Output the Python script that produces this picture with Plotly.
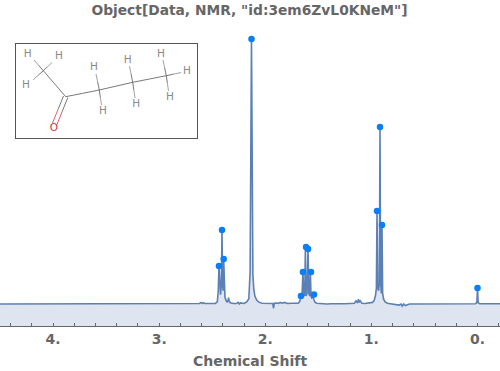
import plotly.graph_objects as go

TITLE = 'Object[Data, NMR, "id:3em6ZvL0KNeM"]'
X_TITLE = "Chemical Shift"
TICK_VALUES = [4, 3, 2, 1, 0]
TICK_LABELS = ["4.", "3.", "2.", "1.", "0."]

shift = [4.72, 4.0, 3.5, 3.0, 2.85, 2.62, 2.605, 2.595, 2.585, 2.57, 2.55, 2.5, 2.47, 2.452, 2.443, 2.4365, 2.43,
         2.422, 2.414, 2.408, 2.402, 2.397, 2.392, 2.387, 2.38, 2.37, 2.36, 2.352, 2.346, 2.34, 2.33, 2.3, 2.27, 2.255,
         2.245, 2.235, 2.2, 2.175, 2.155, 2.143, 2.136, 2.13, 2.124, 2.117, 2.108, 2.098, 2.08, 2.06, 2.03, 2.0,
         1.96, 1.93, 1.922, 1.915, 1.89, 1.875, 1.86, 1.84, 1.82, 1.79, 1.75, 1.72, 1.69, 1.675, 1.664, 1.655, 1.645,
         1.637, 1.628, 1.622, 1.616, 1.607, 1.597, 1.59, 1.582, 1.575, 1.569, 1.56, 1.552, 1.541, 1.53, 1.515, 1.49,
         1.45, 1.42, 1.38, 1.34, 1.3, 1.25, 1.2, 1.16, 1.145, 1.13, 1.122, 1.115, 1.105, 1.09, 1.06, 1.02, 0.99,
         0.975, 0.962, 0.953, 0.947, 0.94, 0.932, 0.925, 0.919, 0.913, 0.906, 0.9, 0.894, 0.885, 0.87, 0.85, 0.82,
         0.78, 0.74, 0.72, 0.71, 0.695, 0.68, 0.64, 0.5, 0.3, 0.13, 0.11, 0.02, 0.006, 0.0, -0.006, -0.02, -0.1, -0.3]
intensity = [0.0, 0.001, 0.001, 0.001, 0.002, 0.002, 0.006, 0.002, 0.005, 0.002, 0.002, 0.002, 0.002, 0.008, 0.05, 0.143, 0.05,
             0.035, 0.07, 0.279, 0.07, 0.05, 0.17, 0.05, 0.025, 0.014, 0.008, 0.012, 0.024, 0.01, 0.005, 0.002, 0.002, 0.006,
             0.0, 0.004, 0.002, 0.008, 0.02, 0.12, 0.6, 1.0, 0.6, 0.11, 0.055, 0.03, 0.014, 0.007, 0.003, 0.002,
             0.001, 0.002, -0.016, 0.003, 0.004, 0.002, 0.006, 0.003, 0.006, 0.002, 0.003, 0.002, 0.003, 0.01, 0.03, 0.02, 0.121,
             0.03, 0.035, 0.215, 0.03, 0.04, 0.208, 0.04, 0.03, 0.121, 0.03, 0.02, 0.036, 0.015, 0.006, 0.003, 0.002,
             0.001, 0.0, 0.001, 0.002, 0.001, 0.001, 0.002, 0.003, 0.012, 0.004, 0.018, 0.006, 0.012, 0.003, 0.002, 0.003, 0.006,
             0.012, 0.03, 0.06, 0.351, 0.06, 0.05, 0.08, 0.668, 0.08, 0.04, 0.298, 0.04, 0.018, 0.008, 0.003, 0.001,
             0.001, -0.004, 0.0, -0.008, 0.0, -0.006, 0.0, 0.0, 0.001, 0.0, 0.002, 0.001, 0.005, 0.06, 0.005, 0.001, 0.001, 0.001]

peak_shift = [2.4365, 2.408, 2.392, 2.13, 1.664, 1.645, 1.616, 1.597, 1.569, 1.541, 0.947, 0.919, 0.9, 0.0]
peak_height = [0.143, 0.279, 0.17, 1.0, 0.03, 0.121, 0.215, 0.208, 0.121, 0.036, 0.351, 0.668, 0.298, 0.06]

# inset molecule, in inset units
atom_label = ["H", "H", "H", "O", "H", "H", "H", "H", "H", "H", "H"]
atom_x = [27.7, 59, 26, 54, 94, 103, 127.7, 136.3, 161, 187, 170]
atom_y = [54, 56, 85.7, 128.7, 67.7, 111, 60.7, 104.3, 54, 71.3, 97.3]
atom_color = ["#8a8a8a"] * 3 + ["#d0383c"] + ["#8a8a8a"] * 7
bond_dark_x = [43.3, 43.3, 43.3, 43.3, 65.7, 99.3, 132.7, 99.3, 99.3, 132.7, 132.7, 166.3, 166.3, 166.3]
bond_dark_y = [70.7, 70.7, 70.7, 70.7, 96.7, 90, 82.3, 90, 90, 82.3, 82.3, 75.7, 75.7, 75.7]
bond_end_x = [34, 52, 33, 65.7, 99.3, 132.7, 166.3, 96, 101.5, 129.5, 135, 163, 181, 168.5]
bond_end_y = [60, 62.5, 80, 96.7, 90, 82.3, 75.7, 74, 105, 66, 98, 60, 72.5, 91]
bond_end_color = ["#8a8a8a", "#8a8a8a", "#8a8a8a", "#555555", "#555555", "#555555", "#555555",
                  "#8a8a8a", "#8a8a8a", "#8a8a8a", "#8a8a8a", "#8a8a8a", "#8a8a8a", "#8a8a8a"]
double_x = [[63.5, 52.5], [67.8, 57]]
double_y = [[96, 123], [97.5, 124.5]]

AXIS_MIN = -0.083
LINE = "#5b80b6"
FILL = "#dfe5f0"
GREY = "#666666"
FONT = "DejaVu Sans"
PLOT_TOP = 20
PLOT_BOTTOM = 326
PLOT_H = PLOT_BOTTOM - PLOT_TOP

fig = go.Figure()
fig.add_trace(go.Scatter(x=shift, y=[AXIS_MIN] * len(shift), mode="lines", line=dict(width=0), hoverinfo="skip", showlegend=False))
fig.add_trace(go.Scatter(x=shift, y=intensity, mode="lines", line=dict(color=LINE, width=1.6), fill="tonexty",
                         fillcolor=FILL, showlegend=False))
fig.add_trace(go.Scatter(x=peak_shift, y=peak_height, mode="markers", marker=dict(color="#0a7ff5", size=6.5), showlegend=False))

for i in range(len(bond_dark_x)):
    mx = (bond_dark_x[i] + bond_end_x[i]) / 2
    my = (bond_dark_y[i] + bond_end_y[i]) / 2
    fig.add_trace(go.Scatter(x=[bond_dark_x[i], mx], y=[bond_dark_y[i], my], mode="lines", xaxis="x2", yaxis="y2",
                             line=dict(color="#555555", width=0.8), hoverinfo="skip", showlegend=False))
    fig.add_trace(go.Scatter(x=[mx, bond_end_x[i]], y=[my, bond_end_y[i]], mode="lines", xaxis="x2", yaxis="y2",
                             line=dict(color=bond_end_color[i], width=0.8), hoverinfo="skip", showlegend=False))
for bx, by in zip(double_x, double_y):
    mx = sum(bx) / 2
    my = sum(by) / 2
    fig.add_trace(go.Scatter(x=[bx[0], mx], y=[by[0], my], mode="lines", xaxis="x2", yaxis="y2",
                             line=dict(color="#555555", width=0.8), hoverinfo="skip", showlegend=False))
    fig.add_trace(go.Scatter(x=[mx, bx[1]], y=[my, by[1]], mode="lines", xaxis="x2", yaxis="y2",
                             line=dict(color="#d0383c", width=0.8), hoverinfo="skip", showlegend=False))
fig.add_trace(go.Scatter(x=atom_x, y=atom_y, mode="text", text=atom_label, xaxis="x2", yaxis="y2",
                         textfont=dict(family=FONT, size=10.5, color=atom_color), hoverinfo="skip", showlegend=False))

fig.update_layout(
    width=500, height=371, autosize=False,
    margin=dict(l=0, r=0, t=PLOT_TOP, b=371 - PLOT_BOTTOM),
    paper_bgcolor="white", plot_bgcolor="white",
    title=dict(text=TITLE, x=0.499, xanchor="center", y=0.973, yanchor="middle",
               font=dict(family=FONT, size=13.8, color=GREY, weight="bold")),
    xaxis=dict(range=[4.5, -0.212], tickmode="array", tickvals=TICK_VALUES, ticktext=TICK_LABELS,
               ticks="inside", ticklen=3, tickcolor=GREY, tickwidth=1, showline=True, linecolor=GREY, linewidth=1,
               showgrid=False, zeroline=False,
               minor=dict(dtick=0.2, tick0=0, ticks="inside", ticklen=3, tickcolor=GREY, tickwidth=1, showgrid=False),
               tickfont=dict(family=FONT, size=14, color=GREY, weight="bold"),
               title=dict(text=X_TITLE, font=dict(family=FONT, size=14, color=GREY, weight="bold"), standoff=10)),
    yaxis=dict(range=[AXIS_MIN, 1.0717], visible=False, fixedrange=True),
    xaxis2=dict(domain=[15.5 / 500, 197 / 500], range=[15.5, 197], anchor="y2", showticklabels=False, ticks="",
                showgrid=False, zeroline=False, showline=True, mirror=True, linecolor="#555555", linewidth=1),
    yaxis2=dict(domain=[(PLOT_BOTTOM - 138) / PLOT_H, (PLOT_BOTTOM - 43.5) / PLOT_H], range=[138, 43.5], anchor="x2",
                showticklabels=False, ticks="", showgrid=False, zeroline=False, showline=True, mirror=True,
                linecolor="#555555", linewidth=1),
)
fig.write_html("out.html", config=dict(displayModeBar=False), post_script="document.body.style.margin='0';")
